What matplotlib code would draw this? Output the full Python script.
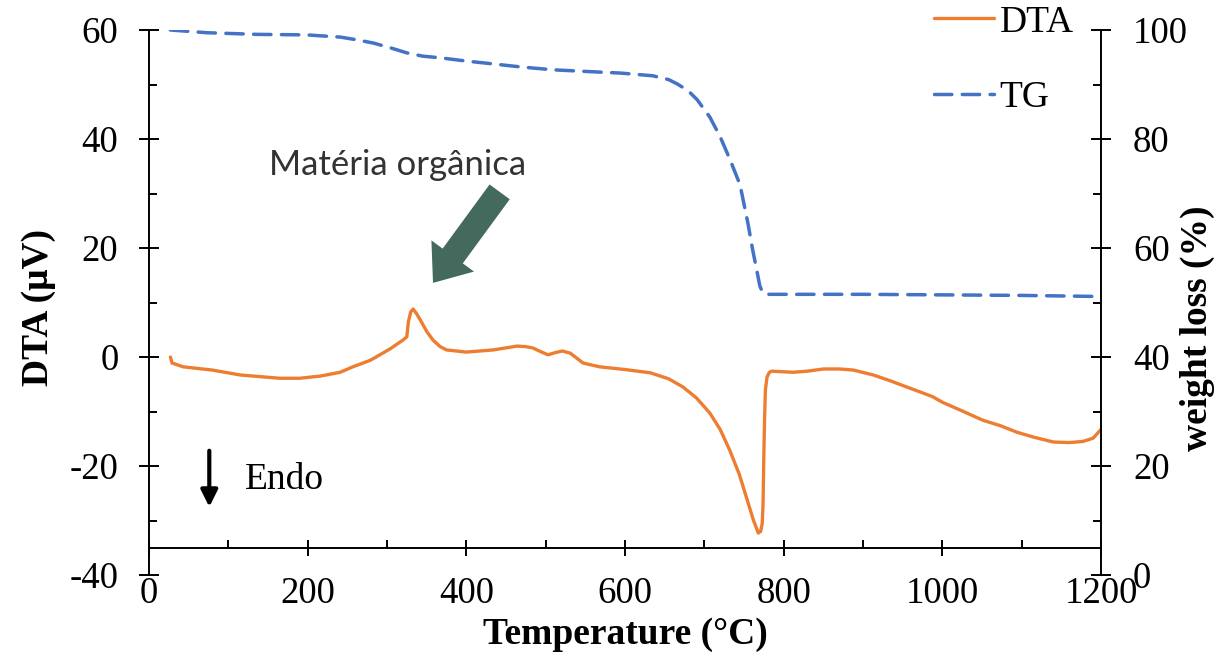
import matplotlib
matplotlib.use("Agg")
import matplotlib.pyplot as plt
from matplotlib.patches import FancyArrowPatch
from matplotlib.ticker import MultipleLocator

# ---------------- data ----------------
dta_temp = [27, 29, 43, 80, 115, 165, 190, 216, 241, 257, 279, 291, 304, 320, 325, 327,
            330, 333, 337, 342, 350, 358, 367, 375, 400, 434, 464, 475, 484, 495, 503,
            512, 521, 531, 540, 547, 568, 600, 632, 655, 673, 690, 707, 720, 732, 744,
            754, 762, 768, 771, 773, 774, 775, 776, 777, 779, 782, 785, 812, 830, 850,
            871, 888, 913, 935, 955, 970, 988, 1000, 1022, 1051, 1073, 1094, 1115,
            1140, 1160, 1177, 1190, 1200]
dta_values = [0.0, -1.1, -1.8, -2.4, -3.3, -3.9, -3.9, -3.5, -2.8, -1.8, -0.6, 0.4, 1.5,
              3.1, 3.7, 6.5, 8.3, 8.8, 8.0, 6.8, 4.7, 3.1, 1.9, 1.3, 0.9, 1.3, 2.0, 1.9,
              1.65, 0.9, 0.4, 0.8, 1.1, 0.7, -0.3, -1.1, -1.8, -2.3, -2.9, -4.0, -5.5,
              -7.5, -10.3, -13.3, -17.1, -21.5, -26.2, -30.0, -32.3, -32.0, -30.5, -27.0,
              -18.0, -11.0, -6.0, -3.7, -2.8, -2.6, -2.8, -2.6, -2.2, -2.2, -2.4, -3.3,
              -4.4, -5.5, -6.3, -7.3, -8.3, -9.7, -11.6, -12.6, -13.8, -14.7, -15.6,
              -15.7, -15.5, -14.9, -13.3]

tg_temp = [27, 73, 136, 199, 241, 262, 283, 305, 325, 345, 367, 400, 426, 470, 509, 550,
           594, 635, 655, 666, 680, 691, 707, 720, 733, 745, 755, 761, 766, 770, 774,
           780, 900, 1000, 1100, 1200]
tg_values = [100.0, 99.5, 99.2, 99.1, 98.7, 98.2, 97.6, 96.7, 95.8, 95.2, 94.9, 94.3,
             93.9, 93.2, 92.7, 92.4, 92.1, 91.6, 90.9, 90.1, 88.8, 87.2, 84.0, 80.4,
             76.0, 71.6, 64.5, 59.6, 56.0, 53.0, 51.7, 51.5, 51.5, 51.4, 51.3, 51.1]

x_ticks = [0, 200, 400, 600, 800, 1000, 1200]
dta_ticks = [-40, -20, 0, 20, 40, 60]
tg_ticks = [0, 20, 40, 60, 80, 100]

# ---------------- style ----------------
SERIF = ["Liberation Serif", "DejaVu Serif"]
plt.rcParams["font.family"] = SERIF
FS = 26.5
ORANGE = "#ED7D31"
BLUE = "#4472C4"
GREEN = "#436A5C"

fig = plt.figure(figsize=(12.22, 6.58), dpi=100)
ax = fig.add_axes([149 / 1222, 1 - 575 / 658, (1101 - 149) / 1222, (575 - 30) / 658])
ax2 = ax.twinx()

l1, = ax.plot(dta_temp, dta_values, color=ORANGE, lw=2.4, label="DTA",
              solid_joinstyle="round", solid_capstyle="round")
l2, = ax2.plot(tg_temp, tg_values, color=BLUE, lw=2.5, label="TG",
               dashes=(5, 3), dash_capstyle="round")

ax.set_xlim(0, 1200)
ax.set_ylim(-40, 60)
ax2.set_ylim(0, 100)

ax.set_xticks(x_ticks)
ax.set_xticklabels([str(t) for t in x_ticks])
ax.xaxis.set_minor_locator(MultipleLocator(100))
ax.set_yticks(dta_ticks)
ax.set_yticklabels([str(t) for t in dta_ticks])
ax.yaxis.set_minor_locator(MultipleLocator(10))
ax2.set_yticks(tg_ticks)
ax2.set_yticklabels([str(t) for t in tg_ticks])
ax2.yaxis.set_minor_locator(MultipleLocator(10))

for s in ["top", "right"]:
    ax.spines[s].set_visible(False)
for s in ["top", "left", "bottom"]:
    ax2.spines[s].set_visible(False)
ax.spines["bottom"].set_position(("data", -35))
for sp in [ax.spines["left"], ax.spines["bottom"], ax2.spines["right"]]:
    sp.set_linewidth(1.4)

ax.tick_params(axis="x", which="major", direction="inout", length=12, width=1.4,
               pad=15, labelsize=FS)
ax.tick_params(axis="x", which="minor", direction="in", length=6, width=1.4)
ax.tick_params(axis="y", which="major", direction="inout", length=14, width=1.4,
               pad=15, labelsize=FS)
ax.tick_params(axis="y", which="minor", direction="in", length=6, width=1.4)
ax2.tick_params(axis="y", which="major", direction="inout", length=14, width=1.4,
                pad=16, labelsize=FS)
ax2.tick_params(axis="y", which="minor", direction="in", length=6, width=1.4)

fig.text(625 / 1222, 1 - 635 / 658, "Temperature (°C)", ha="center", va="center",
         fontsize=27, fontweight="bold")
fig.text(38 / 1222, 1 - 307 / 658, "DTA (μV)", ha="center", va="center",
         rotation=90, fontsize=27, fontweight="bold")
fig.text(1197 / 1222, 1 - 328 / 658, "weight loss (%)", ha="center", va="center",
         rotation=90, fontsize=27, fontweight="bold")

# Endo arrow
ax.annotate("", xy=(76, -27.5), xytext=(76, -17.2),
            arrowprops=dict(arrowstyle="-|>,head_length=1.0,head_width=0.5",
                            color="black", lw=3, shrinkA=0, shrinkB=0))
ax.text(121, -22.6, "Endo", ha="left", va="center", fontsize=27)

# organic matter annotation
ax.text(313, 35.2, "Matéria orgânica", ha="center", va="center", fontsize=25,
        family=["Lato", "DejaVu Sans"], color="#333333")
arr = FancyArrowPatch((442, 30.3), (358, 13.6),
                      arrowstyle="simple,head_length=24,head_width=38,tail_width=18",
                      mutation_scale=1, color=GREEN, shrinkA=0, shrinkB=0, lw=0)
ax.add_patch(arr)

leg = ax2.legend([l1, l2], ["DTA", "TG"], loc="upper left",
                 bbox_to_anchor=(934 / 1222, 1 - 5 / 658),
                 bbox_transform=fig.transFigure, frameon=False, fontsize=27,
                 handlelength=1.6, handletextpad=0.15, labelspacing=1.1,
                 borderpad=0, borderaxespad=0)

fig.savefig("out.png", dpi=100)
